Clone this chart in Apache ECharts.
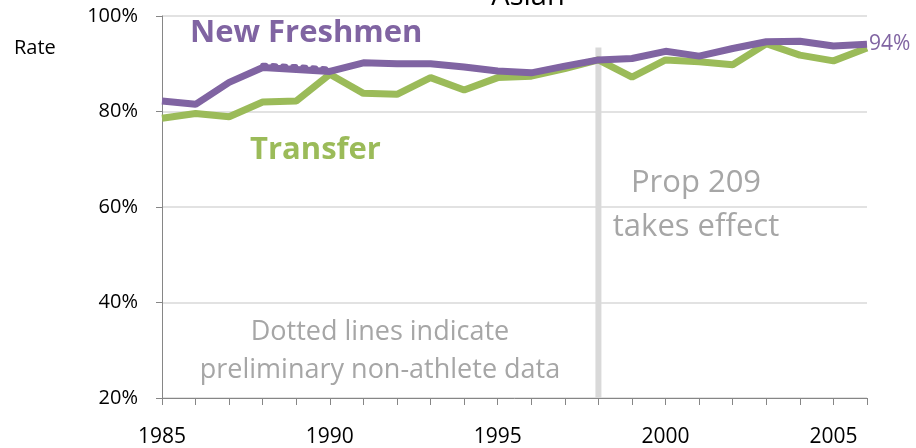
<!DOCTYPE html>
<html>
<head>
<meta charset="utf-8">
<script src="https://cdn.jsdelivr.net/npm/echarts@6/dist/echarts.min.js"></script>
<style>
  html, body { margin: 0; padding: 0; background: #fff; }
  #chart { width: 916px; height: 448px; }
</style>
</head>
<body>
<div id="chart"></div>
<script>
const years = [1985, 1986, 1987, 1988, 1989, 1990, 1991, 1992, 1993, 1994, 1995,
  1996, 1997, 1998, 1999, 2000, 2001, 2002, 2003, 2004, 2005, 2006];
const freshmen = [82.2, 81.5, 86.1, 89.2, 88.8, 88.4, 90.2, 90.0, 90.0, 89.3, 88.5,
  88.1, 89.5, 90.8, 91.1, 92.6, 91.6, 93.2, 94.6, 94.7, 93.7, 94.1];
const transfer = [78.6, 79.6, 78.9, 82.0, 82.2, 87.8, 83.8, 83.6, 87.1, 84.5, 87.1,
  87.4, 89.0, 90.8, 87.2, 90.8, 90.4, 89.8, 94.2, 91.8, 90.6, 93.3];
// preliminary non-athlete data (dotted)
const prelimYears = [1988, 1989, 1990];
const prelimFreshmen = [89.7, 89.4, 88.9];
const propYear = 1998;

const font = 'Open Sans';
const purple = '#8064a2';
const green = '#9bbb59';
const annot = '#a6a6a6';

const myChart = echarts.init(document.getElementById('chart'));
myChart.setOption({
  animation: false,
  grid: { left: 162, right: 49, top: 16, bottom: 50 },
  xAxis: {
    type: 'value',
    min: 1985,
    max: 2006,
    interval: 1,
    axisLine: { lineStyle: { color: '#868686', width: 1 } },
    axisTick: { length: 7, lineStyle: { color: '#868686' } },
    axisLabel: {
      color: '#000', fontFamily: font, fontSize: 21, margin: 29,
      formatter: v => (v % 5 === 0 ? String(v) : '')
    },
    splitLine: { show: false }
  },
  yAxis: {
    type: 'value',
    min: 20,
    max: 100,
    interval: 20,
    axisLine: { show: true, lineStyle: { color: '#868686', width: 1 } },
    axisTick: { show: true, length: 6, lineStyle: { color: '#868686' } },
    axisLabel: { color: '#000', fontFamily: font, fontSize: 20, margin: 24, formatter: '{value}%' },
    splitLine: { lineStyle: { color: '#d9d9d9', width: 1.5 } }
  },
  series: [
    {
      type: 'line',
      data: [[propYear, 20], [propYear, 93.4]],
      symbol: 'none',
      silent: true,
      lineStyle: { color: '#d9d9d9', width: 6 },
      z: 1
    },
    {
      type: 'line',
      data: years.map((y, i) => [y, transfer[i]]),
      symbol: 'none',
      lineStyle: { color: green, width: 7 },
      z: 3
    },
    {
      type: 'line',
      data: years.map((y, i) => [y, freshmen[i]]),
      symbol: 'none',
      lineStyle: { color: purple, width: 7 },
      endLabel: {
        show: true, color: purple, fontFamily: font, fontSize: 21, distance: 2,
        formatter: p => Math.round(p.value[1]) + '%'
      },
      z: 4
    },
    {
      type: 'line',
      data: prelimYears.map((y, i) => [y, prelimFreshmen[i]]),
      symbol: 'none',
      lineStyle: { color: purple, width: 5, type: [3, 7], cap: 'round' },
      z: 4
    }
  ],
  graphic: [
    { type: 'text', x: 528, y: -3, style: { text: 'Asian', fill: '#000', font: '29px "Open Sans"', align: 'center', verticalAlign: 'middle' } },
    { type: 'text', x: 14, y: 48, style: { text: 'Rate', fill: '#000', font: '20px "Open Sans"', verticalAlign: 'middle' } },
    { type: 'text', x: 190, y: 33, style: { text: 'New Freshmen', fill: purple, font: 'bold 31px "Open Sans"', verticalAlign: 'middle' } },
    { type: 'text', x: 250, y: 150, style: { text: 'Transfer', fill: green, font: 'bold 31px "Open Sans"', verticalAlign: 'middle' } },
    { type: 'text', x: 696, y: 205, style: { text: 'Prop 209\ntakes effect', fill: annot, font: '31px "Open Sans"', align: 'center', verticalAlign: 'middle', lineHeight: 44 } },
    { type: 'text', x: 380, y: 351, style: { text: 'Dotted lines indicate\npreliminary non-athlete data', fill: annot, font: '27px "Open Sans"', align: 'center', verticalAlign: 'middle', lineHeight: 38 } }
  ]
});
</script>
</body>
</html>
